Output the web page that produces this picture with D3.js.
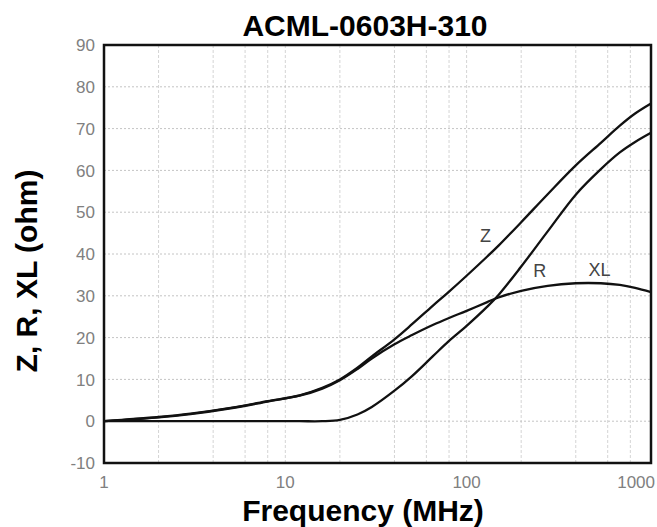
<!DOCTYPE html>
<html>
<head>
<meta charset="utf-8">
<script src="https://cdn.jsdelivr.net/npm/d3@7"></script>
<style>
  body { margin: 0; background: #fff; }
  text { font-family: "Liberation Sans", Arial, sans-serif; }
</style>
</head>
<body>
<script>
  // values
  const freq = [1, 2, 3, 5, 8, 12, 16, 20, 25, 30, 40, 50, 65, 80, 100, 130, 150, 200, 280, 400, 550, 700, 850, 1040];
  const zVals = [0, 1.0, 1.8, 3.2, 4.8, 6.2, 8.0, 10.0, 12.8, 15.5, 19.6, 23.2, 27.6, 31.0, 34.8, 39.4, 42.0, 47.6, 54.3, 61.2, 66.6, 70.7, 73.6, 76];
  const rVals = [0, 0, 0, 0, 0, 0, 0, 0.3, 1.6, 3.4, 7.3, 10.8, 15.5, 19.2, 22.8, 27.4, 30.2, 37.0, 45.4, 54.2, 60.3, 64.3, 66.8, 69];
  const xlVals = [0, 0.9, 1.7, 3.1, 4.7, 6.1, 7.8, 9.8, 12.5, 15.0, 18.4, 20.6, 23.0, 24.7, 26.4, 28.5, 29.6, 31.2, 32.4, 33.0, 33.0, 32.6, 31.9, 30.9];
  const yTicks = [-10, 0, 10, 20, 30, 40, 50, 60, 70, 80, 90];
  const xTicks = [1, 10, 100, 1000];
  const xGrid = [2, 4, 6, 8, 10, 20, 40, 60, 80, 100, 200, 400, 600, 800];
  const curveLabels = ['Z', 'R', 'XL'];
  const labelFreq = [127, 253, 540];
  const labelVal = [44.3, 36.0, 36.2];

  const width = 657;
  const height = 527;
  const margin = { top: 45, right: 6, bottom: 64, left: 104 };

  const svg = d3.select('body').append('svg')
    .attr('width', width)
    .attr('height', height);

  const x = d3.scaleLog()
    .domain([1, 1040])
    .range([margin.left, width - margin.right]);
  const y = d3.scaleLinear()
    .domain([-10, 90])
    .range([height - margin.bottom, margin.top]);

  // grid
  svg.append('g')
    .selectAll('line')
    .data(xGrid)
    .enter()
    .append('line')
    .attr('x1', d => x(d)).attr('x2', d => x(d))
    .attr('y1', y(90)).attr('y2', y(-10))
    .style('stroke', '#d4d4d4')
    .style('stroke-width', 1)
    .style('stroke-dasharray', '3,2');
  svg.append('g')
    .selectAll('line')
    .data(yTicks.filter(d => d > -10 && d < 90))
    .enter()
    .append('line')
    .attr('x1', x(1)).attr('x2', x(1040))
    .attr('y1', d => y(d)).attr('y2', d => y(d))
    .style('stroke', '#c4c4c4')
    .style('stroke-width', 1)
    .style('stroke-dasharray', '2,2');

  // curves
  const line = d3.line()
    .x(d => x(d[0]))
    .y(d => y(d[1]))
    .curve(d3.curveCatmullRom.alpha(0.5));
  [zVals, rVals, xlVals].forEach(vals => {
    svg.append('path')
      .datum(freq.map((f, i) => [f, vals[i]]))
      .attr('d', line)
      .style('fill', 'none')
      .style('stroke', '#111')
      .style('stroke-width', 2.3);
  });

  // frame
  svg.append('rect')
    .attr('x', x(1)).attr('y', y(90))
    .attr('width', x(1040) - x(1))
    .attr('height', y(-10) - y(90))
    .style('fill', 'none')
    .style('stroke', '#111')
    .style('stroke-width', 2.5);

  // curve labels
  svg.append('g')
    .selectAll('text')
    .data(curveLabels)
    .enter()
    .append('text')
    .attr('x', (d, i) => x(labelFreq[i]))
    .attr('y', (d, i) => y(labelVal[i]))
    .attr('dy', '0.35em')
    .attr('text-anchor', 'middle')
    .style('font-size', '18px')
    .style('fill', '#444')
    .text(d => d);

  // tick labels
  svg.append('g')
    .selectAll('text')
    .data(yTicks)
    .enter()
    .append('text')
    .attr('x', margin.left - 9)
    .attr('y', d => y(d))
    .attr('dy', '0.36em')
    .attr('text-anchor', 'end')
    .style('font-size', '17px')
    .style('fill', '#808080')
    .text(d => d);
  svg.append('g')
    .selectAll('text')
    .data(xTicks)
    .enter()
    .append('text')
    .attr('x', d => (d === 1000 ? width - 2 : x(d)))
    .attr('y', y(-10) + 25)
    .attr('text-anchor', d => (d === 1000 ? 'end' : 'middle'))
    .style('font-size', '17px')
    .style('fill', '#808080')
    .text(d => d);

  // titles
  svg.append('text')
    .text('ACML-0603H-310')
    .attr('x', 365)
    .attr('y', 36)
    .attr('text-anchor', 'middle')
    .style('font-size', '30px')
    .style('font-weight', 'bold');
  svg.append('text')
    .text('Frequency (MHz)')
    .attr('x', 363)
    .attr('y', 521)
    .attr('text-anchor', 'middle')
    .style('font-size', '30px')
    .style('font-weight', 'bold');
  svg.append('text')
    .text('Z, R, XL (ohm)')
    .attr('transform', 'translate(37, 271) rotate(-90)')
    .attr('text-anchor', 'middle')
    .style('font-size', '30px')
    .style('font-weight', 'bold');
</script>
</body>
</html>
